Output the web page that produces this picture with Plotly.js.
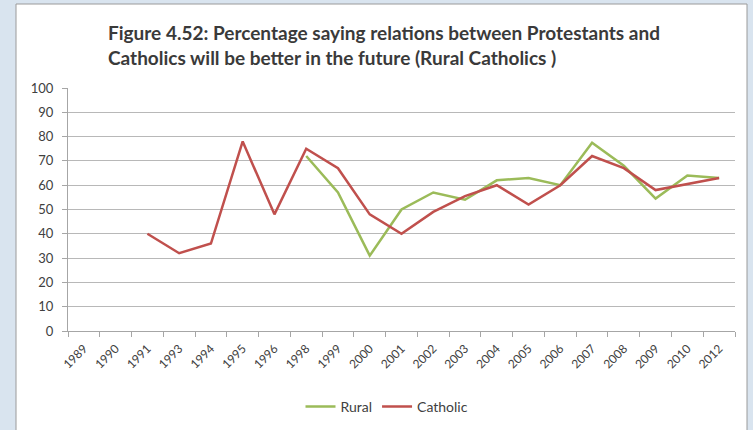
<!DOCTYPE html>
<html>
<head>
<meta charset="utf-8">
<script src="https://cdn.plot.ly/plotly-3.0.1.min.js"></script>
<style>
  html, body { margin: 0; padding: 0; background: #ffffff; }
  #chart { width: 753px; height: 430px; }
</style>
</head>
<body>
<div id="chart"></div>
<script>
// Data
var years = ["1989", "1990", "1991", "1993", "1994", "1995", "1996", "1998", "1999", "2000",
             "2001", "2002", "2003", "2004", "2005", "2006", "2007", "2008", "2009", "2010", "2012"];
var rural = [null, null, null, null, null, null, null, 72, 57, 31,
             50, 57, 54, 62, 63, 60, 77.5, 68, 54.5, 64, 63];
var catholic = [null, null, 40, 32, 36, 78, 48, 75, 67, 48,
                40, 49, 55.5, 60, 52, 60, 72, 67, 58, 60.5, 63];
var yTicks = [0, 10, 20, 30, 40, 50, 60, 70, 80, 90, 100];
var titleText = "Figure 4.52: Percentage saying relations between Protestants and<br>Catholics will be better in the future (Rural Catholics )";

var fontFamily = "Lato, 'Open Sans', 'Liberation Sans', sans-serif";

var traces = [
  {
    x: years, y: rural, name: "Rural", type: "scatter", mode: "lines",
    line: { color: "#9bbb59", width: 2.5 }, connectgaps: false
  },
  {
    x: years, y: catholic, name: "Catholic", type: "scatter", mode: "lines",
    line: { color: "#c0504d", width: 2.5 }, connectgaps: false
  }
];

var layout = {
  width: 753, height: 430,
  paper_bgcolor: "#d9e4ef",
  plot_bgcolor: "#ffffff",
  margin: { l: 68, r: 18, t: 88, b: 99 },
  font: { family: fontFamily, color: "#404040" },
  title: {
    text: titleText,
    x: 108 / 753, xanchor: "left", xref: "container",
    y: 1 - 40 / 430, yanchor: "top", yref: "container",
    font: { family: fontFamily, size: 19, color: "#3a3a3a", weight: "bold" }
  },
  shapes: [
    {
      type: "rect", xref: "paper", yref: "paper", layer: "below",
      x0: (16 - 68) / 667, x1: (747 - 68) / 667,
      y0: (331 - 440) / 243, y1: (331 - 4) / 243,
      fillcolor: "#ffffff", line: { color: "#9a9a9a", width: 1 }
    }
  ],
  xaxis: {
    type: "category",
    range: [-0.5, years.length - 0.5],
    tickangle: -45,
    tickfont: { size: 12, color: "#404040" },
    ticks: "outside", ticklen: 5, tickcolor: "#a6a6a6",
    tickson: "boundaries",
    ticklabelstandoff: 5,
    showline: true, linecolor: "#a6a6a6", linewidth: 1,
    showgrid: false, zeroline: false, fixedrange: true
  },
  yaxis: {
    range: [0, 100],
    tickvals: yTicks,
    ticktext: yTicks.map(String),
    tickfont: { size: 13, color: "#404040" },
    ticks: "outside", ticklen: 5, tickcolor: "#a6a6a6",
    ticklabelstandoff: 6,
    showline: true, linecolor: "#a6a6a6", linewidth: 1,
    showgrid: true, gridcolor: "#b8b8b8", gridwidth: 1,
    zeroline: false, fixedrange: true
  },
  showlegend: true,
  legend: {
    orientation: "h",
    x: (387 - 68) / 667, xanchor: "center",
    y: 1 - 407 / 430, yanchor: "middle", yref: "container",
    font: { size: 14, color: "#404040" },
    bgcolor: "rgba(0,0,0,0)",
    itemwidth: 30
  }
};

Plotly.newPlot("chart", traces, layout, { displayModeBar: false, staticPlot: true });
</script>
</body>
</html>
